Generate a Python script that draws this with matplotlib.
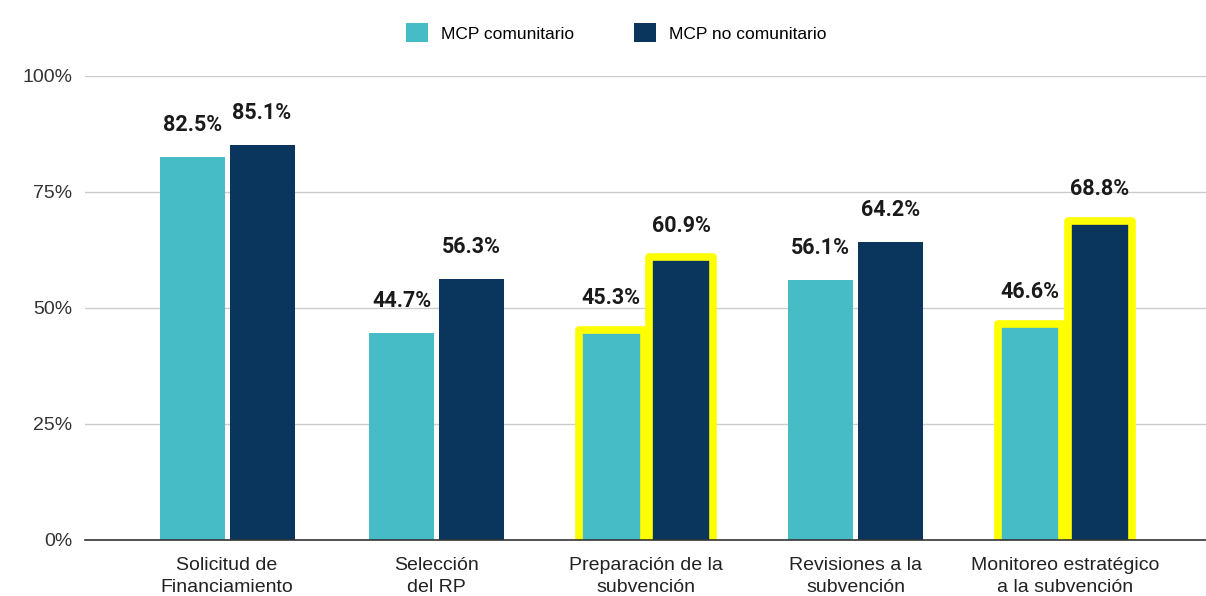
import numpy as np
import matplotlib.pyplot as plt
from matplotlib.patches import Patch

categories = ["Solicitud de\nFinanciamiento", "Selección\ndel RP", "Preparación de la\nsubvención",
              "Revisiones a la\nsubvención", "Monitoreo estratégico\na la subvención"]
comunitario = [82.5, 44.7, 45.3, 56.1, 46.6]
no_comunitario = [85.1, 56.3, 60.9, 64.2, 68.8]
highlighted = [False, False, True, False, True]
series_names = ["MCP comunitario", "MCP no comunitario"]

cyan = "#46BDC6"
navy = "#0A365E"
yellow = "#FFFF00"

fig = plt.figure(figsize=(12.06, 5.96), dpi=100)
ax = fig.add_axes([0.0705, 0.094, 0.9295, 0.7785])

x = np.arange(len(categories))
width = 0.31
offset = 0.167

bars1 = ax.bar(x - offset, comunitario, width, color=cyan, zorder=3)
bars2 = ax.bar(x + offset, no_comunitario, width, color=navy, zorder=3)

# yellow outline on highlighted groups; start below 0 so the bottom edge is clipped away
for i, hl in enumerate(highlighted):
    if hl:
        for dx, val in ((-offset, comunitario[i]), (offset, no_comunitario[i])):
            ax.bar(x[i] + dx, val + 3, width, bottom=-3, color="none", edgecolor=yellow,
                   linewidth=5.5, joinstyle="round", zorder=4)

# value labels
for bars, vals in ((bars1, comunitario), (bars2, no_comunitario)):
    for b, v in zip(bars, vals):
        ax.annotate(f"{v:.1f}%", (b.get_x() + b.get_width() / 2, v),
                    xytext=(0, 15), textcoords="offset points",
                    ha="center", va="bottom", fontsize=15.5, fontweight="bold",
                    family="Roboto", color="#1a1a1a", zorder=5)

ax.set_ylim(0, 100)
ax.set_xlim(-0.678, 4.673)
ax.set_yticks([0, 25, 50, 75, 100])
ax.set_yticklabels(["0%", "25%", "50%", "75%", "100%"], family="Liberation Sans",
                   fontsize=14, color="#333333")
ax.set_xticks(x)
ax.set_xticklabels(categories, family="Liberation Sans", fontsize=14, color="#222222",
                   linespacing=1.45)
ax.tick_params(axis="both", length=0)
ax.tick_params(axis="y", pad=9)
ax.tick_params(axis="x", pad=12)

ax.yaxis.grid(True, color="#CCCCCC", linewidth=1)
ax.set_axisbelow(True)
for s in ["top", "right", "left"]:
    ax.spines[s].set_visible(False)
ax.spines["bottom"].set_color("#333333")
ax.spines["bottom"].set_linewidth(1.2)
ax.spines["bottom"].set_zorder(6)

handles = [Patch(facecolor=cyan), Patch(facecolor=navy)]
fig.legend(handles, series_names, loc="center", bbox_to_anchor=(0.511, 0.945), ncol=2,
           frameon=False, prop={"family": "Liberation Sans", "size": 12.5},
           handlelength=1.27, handleheight=1.27, handletextpad=0.75, columnspacing=3.45)

fig.savefig("out.png", dpi=100)
